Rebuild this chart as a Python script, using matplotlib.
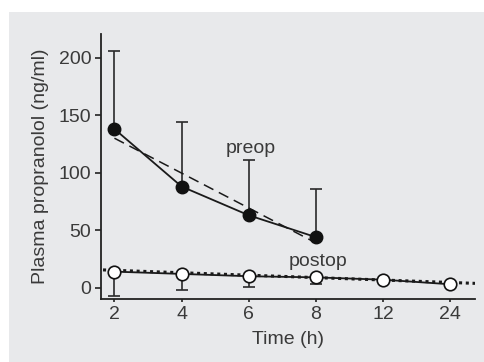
import matplotlib
matplotlib.use("Agg")
import matplotlib.pyplot as plt
from matplotlib.patches import Rectangle

plt.rcParams['font.family'] = ['Liberation Sans', 'DejaVu Sans']

time_labels = ["2", "4", "6", "8", "12", "24"]
preop_mean = [138, 88, 63, 44]
preop_upper = [206, 144, 111, 86]
preop_fit = [130, 39]          # dashed fit at 2 h and 8 h
postop_mean = [14, 12, 10, 9, 7, 3]
postop_lower = [-7, -2, 1, 3, 7, 3]
postop_fit = [15.5, 3.8]       # dotted fit, left edge and right edge
yticks = [0, 50, 100, 150, 200]

fig = plt.figure(figsize=(4.85, 3.62), dpi=100)
fig.patch.set_facecolor('white')
fig.patches.append(Rectangle((9/485, 0), 1 - 9/485, 1 - 12/362, transform=fig.transFigure,
                             facecolor='#e8e9eb', edgecolor='none', zorder=-10))
ax = fig.add_axes([101/485, 1 - 299/362, (475-101)/485, (299-34)/362])
ax.set_facecolor('none')

x_all = list(range(len(time_labels)))
x_pre = x_all[:len(preop_mean)]
txt = '#3a3a3a'
lc = '#1a1a1a'

# preop error bars (upper only)
ax.errorbar(x_pre, preop_mean,
            yerr=[[0]*len(preop_mean), [u - m for u, m in zip(preop_upper, preop_mean)]],
            fmt='none', ecolor='#2a2a2a', elinewidth=1.2, capsize=4, capthick=1.2, zorder=2)
# postop error bars (lower only)
ax.errorbar(x_all, postop_mean,
            yerr=[[m - l for m, l in zip(postop_mean, postop_lower)], [0]*len(postop_mean)],
            fmt='none', ecolor='#2a2a2a', elinewidth=1.2, capsize=4, capthick=1.2, zorder=2)

# fits
ax.plot([x_pre[0], x_pre[-1]], preop_fit, color=lc, lw=1.1, dashes=(7, 4), zorder=3)
ax.plot([-0.17, 5.37], postop_fit, color=lc, lw=2.2, linestyle=(0, (1, 1.2)), zorder=3)

# data
ax.plot(x_pre, preop_mean, '-o', color=lc, lw=1.3, markersize=9, markerfacecolor='#111111',
        markeredgecolor='#111111', zorder=4)
ax.plot(x_all, postop_mean, '-o', color=lc, lw=1.3, markersize=9, markerfacecolor='white',
        markeredgecolor='#111111', markeredgewidth=1.2, zorder=4)

ax.text(2.03, 121, 'preop', ha='center', va='center', fontsize=14, color=txt)
ax.text(3.04, 22.5, 'postop', ha='center', va='center', fontsize=14, color=txt)

ax.set_xlim(-0.2, 5.37)
ax.set_ylim(-9.8, 220.6)
ax.set_xticks(x_all)
ax.set_xticklabels(time_labels)
ax.set_yticks(yticks)
for s in ['top', 'right']:
    ax.spines[s].set_visible(False)
for s in ['left', 'bottom']:
    ax.spines[s].set_color('#222222')
    ax.spines[s].set_linewidth(1.3)
ax.tick_params(axis='x', length=2, width=1.2, color='#222222', labelsize=14, labelcolor=txt, pad=3)
ax.tick_params(axis='y', length=4, width=1.2, color='#222222', labelsize=14, labelcolor=txt, pad=3)
ax.set_xlabel('Time (h)', fontsize=14, color=txt, labelpad=6)
ax.set_ylabel('Plasma propranolol (ng/ml)', fontsize=14, color=txt, labelpad=7)

fig.savefig('out.png', dpi=100)
